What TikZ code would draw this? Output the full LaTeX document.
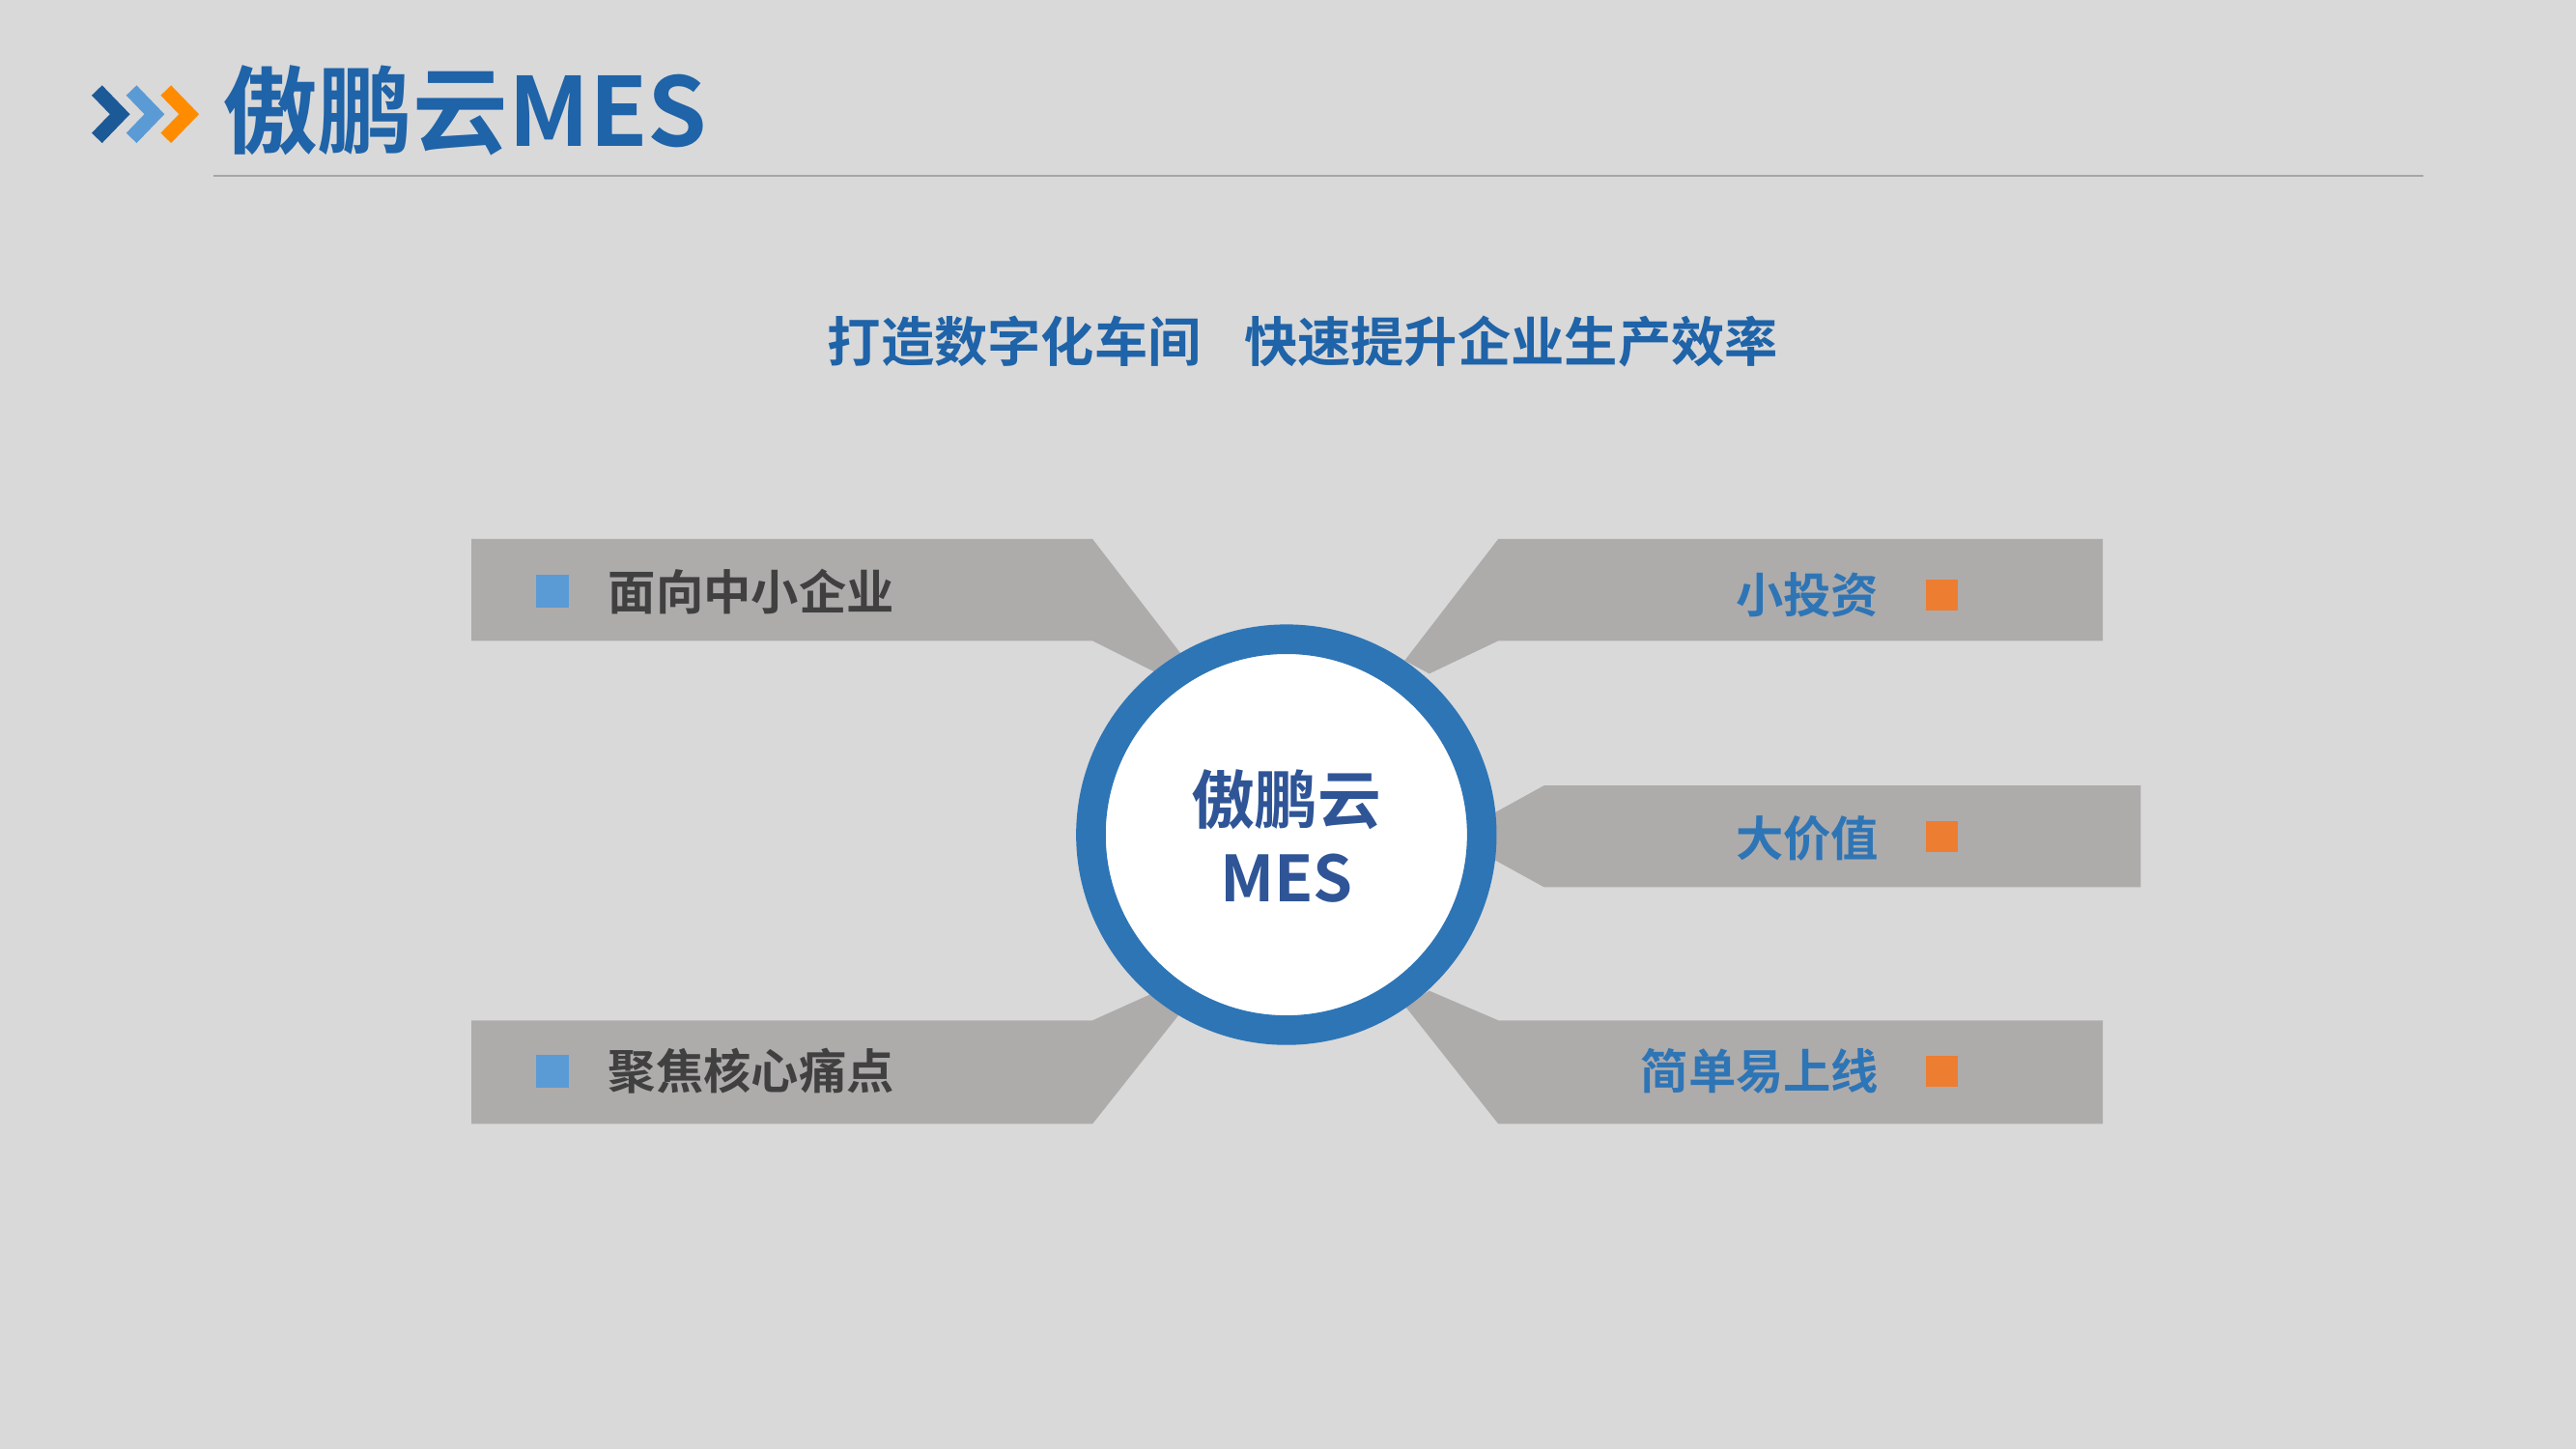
\documentclass[tikz,border=0pt]{standalone}
\usepackage{fontspec}
\setmainfont{Noto Sans CJK SC}[BoldFont={* Bold}]
\newfontfamily\cjkb{Noto Sans CJK SC Bold}
\definecolor{bg}{HTML}{D9D9D9}
\definecolor{tblue}{HTML}{1F63A8}
\definecolor{ring}{HTML}{2E75B6}
\definecolor{sqblue}{HTML}{5B9BD5}
\definecolor{sqor}{HTML}{ED7D31}
\definecolor{band}{HTML}{AEABAB}
\definecolor{dtxt}{HTML}{404040}
\definecolor{cblue}{HTML}{2F5597}
\tikzset{
 bandshape/.style={fill=band,draw=none},
 ltext/.style={font=\cjkb\fontsize{16.5}{18}\selectfont,text=dtxt,anchor=west,inner sep=0},
 rtext/.style={font=\cjkb\fontsize{16.5}{18}\selectfont,text=ring,anchor=east,inner sep=0},
 sqb/.style={fill=sqblue,draw=none,minimum size=0.4cm,inner sep=0},
 sqo/.style={fill=sqor,draw=none,minimum size=0.38cm,inner sep=0},
 chev/.style={line width=5pt,line join=miter}
}
\begin{document}
\begin{tikzpicture}[x=0.02cm,y=-0.02cm]
\fill[bg] (0,0) rectangle (1568,882);
\useasboundingbox (0,0) rectangle (1568,882);
% header
\draw[chev,color=tblue!90!black] (59,55)--(73,69.5)--(59,84);
\draw[chev,color=sqblue] (80,55)--(94,69.5)--(80,84);
\draw[chev,color=orange!90!yellow] (101,55)--(115,69.5)--(101,84);
\node[font=\cjkb\fontsize{33}{36}\selectfont,text=tblue,anchor=west,inner sep=0] (title) at (135,67) {傲鹏云MES};
\draw[gray!70,line width=0.6pt] (130,107) -- (1475,107);
\node[font=\cjkb\fontsize{18.5}{20}\selectfont,text=tblue,inner sep=0] (sub) at (793,208) {打造数字化车间\hspace{0.8em}快速提升企业生产效率};
% bands
\fill[bandshape] (287,328)--(665,328)--(722,402)--(705,410)--(665,390)--(287,390)--cycle;
\fill[bandshape] (1280,328)--(912,328)--(855,402)--(870,410)--(912,390)--(1280,390)--cycle;
\fill[bandshape] (1303,478)--(940,478)--(900,500)--(900,518)--(940,540)--(1303,540)--cycle;
\fill[bandshape] (1280,684)--(912,684)--(855,612)--(870,603)--(912,621)--(1280,621)--cycle;
\fill[bandshape] (287,684)--(665,684)--(722,612)--(705,603)--(665,621)--(287,621)--cycle;
% center
\node[circle,fill=white,draw=ring,line width=0.36cm,minimum size=4.76cm,inner sep=0] (c) at (783,508) {};
\node[font=\cjkb\fontsize{22}{27}\selectfont,text=cblue,align=center,inner sep=0] (ct) at (783,509) {傲鹏云\\MES};
% items
\node[sqb] (s1) at (336,360) {}; \node[ltext] (t1) at (370,360) {面向中小企业};
\node[sqb] (s2) at (336,652) {}; \node[ltext] (t2) at (370,652) {聚焦核心痛点};
\node[sqo] (s3) at (1182,362) {}; \node[rtext] (t3) at (1144,362) {小投资};
\node[sqo] (s4) at (1182,509) {}; \node[rtext] (t4) at (1144,510) {大价值};
\node[sqo] (s5) at (1182,652) {}; \node[rtext] (t5) at (1144,652) {简单易上线};
\end{tikzpicture}
\end{document}
